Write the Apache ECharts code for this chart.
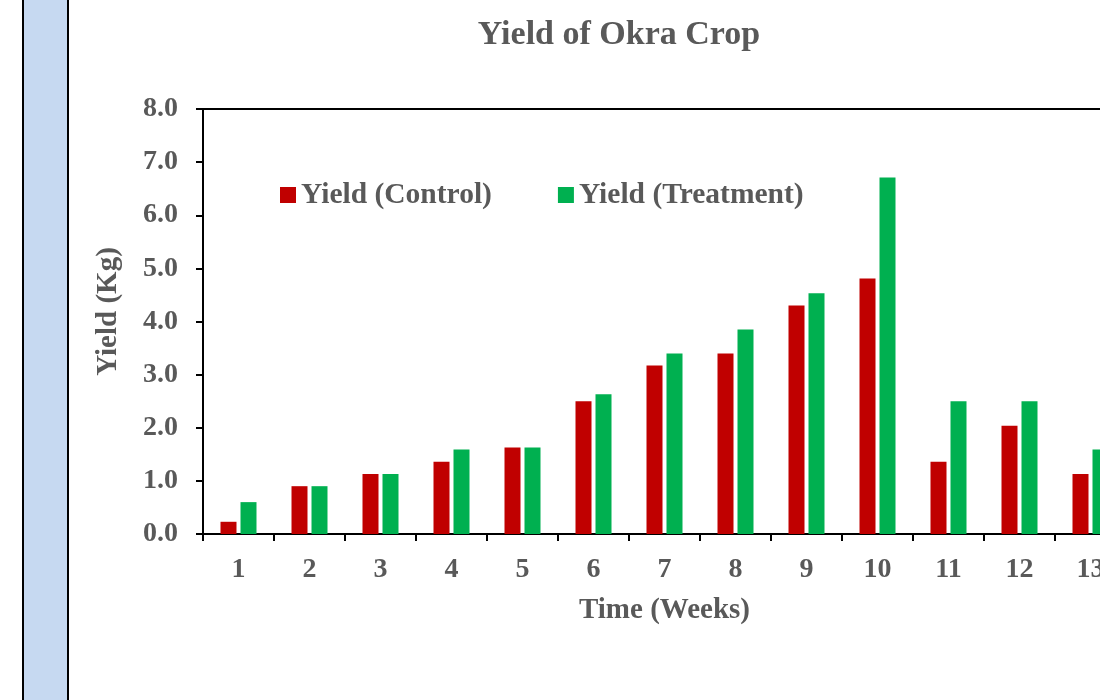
<!DOCTYPE html>
<html>
<head>
<meta charset="utf-8">
<style>
    html, body { margin: 0; padding: 0; background: #fff; }
    #okraYield { width: 1100px; height: 700px; }
</style>
<script src="https://cdn.jsdelivr.net/npm/echarts@6/dist/echarts.min.js"></script>
</head>
<body>
<div id="okraYield"></div>
<script>
    // weeks and yields (Kg)
    var weeks = ['1', '2', '3', '4', '5', '6', '7', '8', '9', '10', '11', '12', '13'];
    var yieldControl = [0.23, 0.9, 1.13, 1.36, 1.63, 2.5, 3.17, 3.4, 4.3, 4.81, 1.36, 2.04, 1.13];
    var yieldTreatment = [0.6, 0.9, 1.13, 1.59, 1.63, 2.63, 3.4, 3.85, 4.53, 6.71, 2.5, 2.5, 1.59];

    var textColor = '#595959';
    var serif = '"Liberation Serif", "Times New Roman", serif';

    var chart = echarts.init(document.getElementById('okraYield'));
    var option = {
        backgroundColor: '#fff',
        animation: false,
        textStyle: { fontFamily: serif },
        title: {
            text: 'Yield of Okra Crop',
            left: 614,
            textAlign: 'center',
            top: 13,
            textStyle: { fontFamily: serif, fontSize: 34, fontWeight: 'bold', color: textColor }
        },
        // light blue strip on the left
        graphic: [{
            type: 'rect',
            shape: { x: 23, y: -10, width: 45, height: 720 },
            style: { fill: '#C6D9F1', stroke: '#000', lineWidth: 2 },
            silent: true
        }],
        legend: {
            left: 280,
            top: 180,
            padding: 0,
            itemWidth: 16,
            itemHeight: 16,
            itemGap: 66,
            icon: 'rect',
            textStyle: { fontFamily: serif, fontSize: 29.5, fontWeight: 'bold', color: textColor },
            data: ['Yield (Control)', 'Yield (Treatment)']
        },
        // plot runs past the right edge of the picture, as in the reference
        grid: {
            left: 203,
            width: 923,
            top: 109,
            height: 425,
            outerBoundsMode: 'none',
            show: true,
            borderColor: '#000',
            borderWidth: 2
        },
        xAxis: {
            type: 'category',
            data: weeks,
            name: 'Time (Weeks)',
            nameLocation: 'middle',
            nameGap: 62,
            nameTextStyle: { fontFamily: serif, fontSize: 29, fontWeight: 'bold', color: textColor },
            axisLine: { lineStyle: { color: '#000', width: 2 } },
            axisTick: { show: true, length: 7, lineStyle: { color: '#000', width: 2 } },
            axisLabel: { margin: 22, fontFamily: serif, fontSize: 28, fontWeight: 'bold', color: textColor }
        },
        yAxis: {
            type: 'value',
            min: 0,
            max: 8,
            interval: 1,
            name: 'Yield (Kg)',
            nameLocation: 'middle',
            nameGap: 80,
            nameTextStyle: {
                fontFamily: serif, fontSize: 29, fontWeight: 'bold', color: textColor,
                padding: [0, 0, 0, 20]
            },
            axisLine: { show: true, lineStyle: { color: '#000', width: 2 } },
            axisTick: { show: true, length: 7, lineStyle: { color: '#000', width: 2 } },
            splitLine: { show: false },
            axisLabel: {
                margin: 25,
                fontFamily: serif, fontSize: 28, fontWeight: 'bold', color: textColor,
                formatter: function (v) { return v.toFixed(1); }
            }
        },
        series: [
            {
                name: 'Yield (Control)',
                type: 'bar',
                barWidth: 16,
                barGap: '25%',
                itemStyle: { color: '#C00000' },
                data: yieldControl
            },
            {
                name: 'Yield (Treatment)',
                type: 'bar',
                barWidth: 16,
                itemStyle: { color: '#00B050' },
                data: yieldTreatment
            }
        ]
    };
    chart.setOption(option);
</script>
</body>
</html>
